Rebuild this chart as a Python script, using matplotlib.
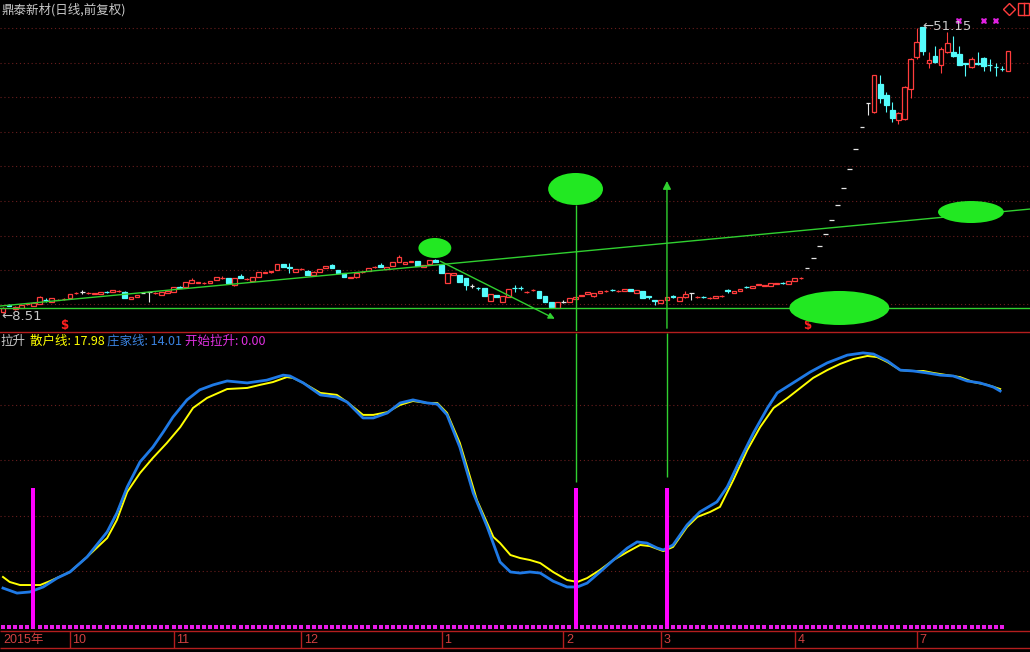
import matplotlib.pyplot as plt
from matplotlib.patches import Ellipse, Rectangle
from matplotlib.lines import Line2D
plt.switch_backend('agg')
plt.rcParams['font.family'] = ['Noto Sans CJK SC', 'DejaVu Sans']

W, H = 1030, 652

####data####
# daily candles, one per trading day (Sep 2015 .. Jul 2016)
opens = [8.6, 9.7, 9.1, 9.3, 9.8, 9.55, 9.85, 10.5, 10.15, 10.4,
         10.55, 10.75, 11.45, 11.6, 11.45, 11.35, 11.35, 11.7, 11.65, 11.75,
         11.65, 10.6, 10.9, 11.5, 11.65, 11.45, 11.2, 11.5, 11.65, 12.45,
         12.4, 13.0, 13.05, 12.95, 13.0, 13.45, 13.7, 13.75, 12.7, 14.0,
         13.55, 13.3, 13.9, 14.45, 14.55, 14.9, 15.8, 15.3, 14.65, 15.0,
         14.8, 14.2, 14.6, 15.2, 15.65, 14.9, 14.45, 13.8, 13.85, 14.55,
         14.75, 15.3, 15.65, 15.05, 15.5, 16.1, 15.8, 16.1, 16.25, 15.35,
         15.8, 16.4, 15.65, 13.0, 14.15, 14.15, 13.75, 12.55, 12.3, 12.25,
         10.3, 11.2, 10.15, 10.9, 12.3, 12.3, 11.6, 11.9, 11.8, 11.05,
         10.15, 9.25, 10.15, 10.15, 10.6, 11.05, 11.35, 11.05, 11.5, 11.75,
         12.0, 11.75, 11.8, 12.1, 11.5, 11.8, 11.05, 10.45, 10.0, 10.45,
         11.0, 10.3, 10.9, 11.5, 10.85, 10.95, 10.7, 10.75, 11.0, 11.9,
         11.5, 11.8, 12.45, 12.25, 12.7, 12.55, 12.55, 12.85, 13.05, 12.85,
         13.3, 13.7, 15.2, 16.7, 18.5, 20.3, 22.4, 24.6, 27.1, 30.0,
         32.9, 36.2, 39.8, 38.45, 42.6, 41.0, 38.75, 37.25, 37.4, 41.9,
         46.65, 51.1, 45.75, 46.8, 45.45, 47.4, 47.4, 47.1, 45.7, 45.15,
         45.8, 46.5, 45.5, 45.2, 44.9, 44.55]
closes = [9.3, 9.6, 9.4, 9.7, 9.85, 10.0, 10.9, 10.4, 10.75, 10.5,
          10.65, 11.35, 11.55, 11.6, 11.55, 11.5, 11.65, 11.6, 11.95, 11.85,
          10.75, 10.9, 11.2, 11.5, 11.65, 11.55, 11.65, 11.8, 12.4, 12.3,
          13.1, 13.45, 13.15, 13.05, 13.3, 13.9, 13.8, 13.0, 13.75, 13.75,
          13.65, 13.9, 14.6, 14.55, 14.7, 15.8, 15.4, 15.15, 15.05, 15.1,
          14.2, 14.65, 15.05, 15.5, 15.2, 14.45, 13.9, 13.9, 14.45, 14.65,
          15.2, 15.4, 15.35, 15.35, 16.1, 16.85, 16.1, 16.25, 15.5, 15.65,
          16.4, 16.1, 14.45, 14.45, 14.45, 13.15, 12.7, 12.55, 12.2, 11.05,
          11.35, 10.9, 11.05, 12.1, 12.2, 12.2, 11.7, 12.0, 10.75, 10.15,
          9.4, 10.15, 10.15, 10.75, 10.9, 11.2, 11.65, 11.5, 11.8, 11.85,
          11.9, 11.85, 12.1, 11.8, 11.95, 10.75, 10.9, 10.3, 10.45, 10.9,
          10.9, 10.9, 11.35, 11.5, 10.95, 10.85, 10.8, 11.05, 11.1, 11.8,
          11.8, 12.1, 12.35, 12.55, 12.85, 12.7, 13.0, 13.0, 12.95, 13.3,
          13.75, 13.8, 15.2, 16.7, 18.5, 20.3, 22.4, 24.6, 27.1, 30.0,
          32.9, 36.2, 39.8, 43.95, 40.55, 39.5, 37.55, 38.3, 42.2, 46.35,
          48.9, 47.55, 46.2, 45.9, 47.85, 48.75, 46.8, 45.45, 45.6, 46.35,
          45.6, 45.3, 45.4, 45.1, 44.8, 47.55]
highs = [9.4, 9.9, 9.5, 9.8, 9.9, 10.1, 11.0, 10.7, 10.8, 10.6,
         10.7, 11.4, 11.6, 11.95, 11.6, 11.55, 11.7, 11.8, 12.0, 11.9,
         11.75, 10.95, 11.25, 11.55, 11.7, 11.6, 11.7, 11.85, 12.45, 12.6,
         13.15, 13.8, 13.2, 13.1, 13.35, 13.95, 14.0, 13.8, 13.8, 14.3,
         13.7, 13.95, 14.65, 14.6, 14.75, 15.85, 15.85, 15.95, 15.1, 15.15,
         14.85, 14.7, 15.1, 15.55, 15.8, 14.95, 14.5, 13.95, 14.5, 14.7,
         15.25, 15.45, 16.0, 15.4, 16.15, 17.1, 16.15, 16.3, 16.3, 15.7,
         16.45, 16.5, 15.7, 14.5, 14.5, 14.2, 13.8, 12.9, 12.45, 12.3,
         11.4, 11.25, 11.1, 12.15, 12.7, 12.6, 11.75, 12.05, 11.85, 11.1,
         10.2, 10.2, 10.4, 10.8, 10.95, 11.25, 11.7, 11.55, 11.85, 11.9,
         12.05, 11.9, 12.15, 12.15, 12.0, 11.85, 11.1, 10.5, 10.5, 10.95,
         11.2, 10.95, 11.8, 11.55, 11.0, 11.0, 10.85, 11.1, 11.15, 12.1,
         11.85, 12.15, 12.5, 12.6, 12.9, 12.75, 13.05, 13.05, 13.1, 13.35,
         13.8, 13.85, 15.2, 16.7, 18.5, 20.3, 22.4, 24.6, 27.1, 30.0,
         32.9, 36.2, 39.8, 44.0, 44.0, 41.4, 39.95, 38.45, 42.3, 46.45,
         51.0, 51.15, 47.4, 48.3, 48.2, 50.4, 49.8, 48.3, 45.8, 46.65,
         47.4, 46.65, 46.35, 45.8, 45.3, 47.6]
lows = [8.51, 9.5, 9.0, 9.2, 9.7, 9.5, 9.8, 10.2, 10.1, 10.4,
        10.5, 10.7, 11.4, 11.35, 11.4, 11.3, 11.3, 11.5, 11.6, 11.7,
        10.7, 10.55, 10.85, 11.45, 10.15, 11.4, 11.15, 11.45, 11.6, 12.25,
        12.35, 12.95, 13.0, 12.9, 12.95, 13.4, 13.65, 12.95, 12.6, 13.7,
        13.5, 13.25, 13.85, 14.4, 14.5, 14.85, 15.35, 14.5, 14.6, 14.95,
        14.15, 14.15, 14.55, 15.15, 15.15, 14.4, 13.85, 13.75, 13.8, 14.5,
        14.7, 15.25, 15.3, 15.0, 15.45, 16.05, 15.75, 16.05, 15.45, 15.3,
        15.75, 16.05, 14.4, 12.95, 14.1, 13.1, 11.95, 12.2, 11.95, 11.0,
        10.25, 10.85, 10.1, 10.85, 11.65, 11.9, 11.55, 11.85, 10.7, 10.1,
        9.35, 9.2, 10.0, 10.1, 10.55, 11.0, 11.3, 10.9, 11.45, 11.7,
        11.85, 11.7, 11.75, 11.75, 11.45, 10.7, 10.6, 9.7, 9.95, 10.4,
        10.75, 10.25, 10.75, 10.45, 10.8, 10.8, 10.65, 10.7, 10.95, 11.5,
        11.45, 11.75, 12.3, 12.2, 12.65, 12.5, 12.5, 12.8, 12.9, 12.8,
        13.25, 13.65, 15.2, 16.7, 18.5, 20.3, 22.4, 24.6, 27.1, 30.0,
        32.9, 36.2, 38.0, 38.3, 39.8, 38.45, 36.95, 36.65, 37.3, 40.55,
        46.35, 47.0, 45.0, 45.7, 44.25, 47.2, 46.6, 45.4, 43.8, 45.0,
        45.5, 44.55, 44.55, 43.8, 44.55, 44.5]

# indicator lines (bar position, value)
sanhu_x = [0, 1.1, 2.8, 4.9, 6.1, 7.7, 11.0, 13.8, 17.1, 18.7,
           20.4, 22.5, 24.6, 26.9, 29.1, 31.2, 33.5, 36.8, 40.1, 42.2,
           44.3, 46.6, 47.6, 49.3, 52.1, 54.8, 56.5, 59.1, 60.8, 63.1,
           65.2, 67.3, 69.6, 71.3, 72.9, 75.0, 77.8, 80.5, 81.6, 83.3,
           84.9, 86.5, 88.2, 90.3, 92.6, 94.3, 95.9, 98.0, 100.2, 102.5,
           104.6, 106.2, 108.4, 110.0, 112.3, 114.0, 116.1, 117.7, 119.9, 122.2,
           124.3, 126.5, 128.8, 130.9, 133.0, 135.3, 137.4, 139.6, 141.9, 143.5,
           145.2, 147.3, 149.4, 151.1, 152.7, 155.0, 157.1, 159.3, 161.6, 163.7]
sanhu_v = [18.0, 16.2, 15.1, 15.1, 15.1, 16.5, 19.8, 25.2, 32.0, 38.5,
           48.6, 55.4, 60.8, 66.2, 71.9, 78.8, 82.4, 85.6, 86.0, 87.1,
           88.1, 89.9, 89.6, 87.8, 84.2, 83.5, 80.9, 76.3, 76.3, 77.3,
           79.9, 81.3, 80.6, 80.6, 77.0, 66.2, 45.7, 32.4, 30.2, 25.9,
           24.8, 24.1, 23.0, 19.8, 16.9, 16.2, 17.6, 20.5, 24.1, 27.0,
           29.5, 29.1, 27.3, 28.8, 36.0, 39.6, 41.4, 43.2, 52.9, 63.7,
           71.9, 78.8, 82.4, 86.0, 89.6, 92.4, 94.6, 96.4, 97.5, 97.1,
           95.3, 92.4, 92.1, 92.1, 91.4, 90.6, 89.9, 88.1, 87.1, 85.6]
zhuang_x = [0, 2.3, 4.4, 6.6, 8.9, 11.0, 13.8, 17.1, 18.7, 20.4,
            22.5, 24.6, 26.3, 27.9, 30.2, 32.3, 34.5, 36.8, 40.1, 43.3,
            46.0, 47.1, 49.3, 52.1, 54.8, 56.5, 59.1, 60.8, 63.1, 65.2,
            67.3, 69.6, 71.3, 72.9, 75.0, 77.2, 79.5, 81.6, 83.3, 84.9,
            86.5, 88.2, 90.3, 92.6, 94.3, 95.9, 98.0, 100.2, 102.5, 104.1,
            105.7, 107.4, 108.4, 110.0, 112.3, 114.4, 117.2, 118.9, 121.0, 123.2,
            125.5, 127.1, 129.7, 132.5, 135.3, 138.6, 141.2, 142.9, 145.2, 147.3,
            149.4, 151.7, 153.9, 156.0, 158.3, 160.4, 162.6, 163.7]
zhuang_v = [14.0, 12.2, 12.6, 14.4, 17.6, 19.8, 25.2, 34.2, 41.0, 50.4,
            59.4, 64.7, 70.1, 75.5, 81.7, 85.3, 87.1, 88.5, 87.8, 88.8,
            90.6, 90.3, 87.8, 83.5, 82.7, 80.9, 75.2, 75.2, 77.0, 80.6,
            81.7, 80.6, 80.2, 76.3, 64.7, 48.2, 36.0, 23.4, 19.8, 19.4,
            19.8, 19.4, 16.5, 14.4, 14.4, 15.8, 19.8, 24.1, 28.4, 30.6,
            30.2, 28.4, 27.7, 29.5, 36.7, 41.4, 45.0, 50.4, 60.1, 69.8,
            78.8, 84.2, 87.8, 91.7, 95.0, 97.8, 98.6, 98.2, 95.7, 92.4,
            92.1, 91.4, 90.6, 90.3, 88.5, 87.8, 86.3, 84.9]

signal_idx = [5, 94, 109]       # 开始拉升 bars
signal_val = 50
dollar_idx = [10, 132]
cross_idx = [157, 161, 163]
month_idx = [11, 28, 49, 72, 92, 108, 130, 150]
month_lab = ['10', '11', '12', '1', '2', '3', '4', '7']
price_grid = [9.85, 14.9, 20.05, 25.2, 30.35, 35.5, 40.65, 45.8, 50.95]
ind_grid = [20, 40, 60, 80]

# hand drawn marks (bar position, price)
support_p = 9.26
trend_x, trend_p = [-0.5, 168.6], [9.55, 24.0]
fall_x, fall_p = [71.4, 91.0], [16.41, 7.47]
blobs = [(70.9, 18.2, 5.4, 2.98), (94.0, 26.99, 9.0, 4.77),
         (158.9, 23.56, 10.8, 3.28), (137.3, 9.26, 16.4, 5.07)]

RED = '#ff3c3c'
CYAN = '#54fcfc'
WHITE = '#e6e6e6'
GREEN = '#30d030'
BLOB = '#22e822'
GRID = '#6a1e1e'
BORDER = '#b41e1e'
NUMFONT = ['Liberation Sans', 'DejaVu Sans']

fig = plt.figure(figsize=(W / 100, H / 100), dpi=100, facecolor='black')


def rows(top, bottom):
    return [0, 1 - bottom / H, 1, (bottom - top) / H]


xlim = (-0.49, 168.6)
ax1 = fig.add_axes(rows(0, 331))
ax2 = fig.add_axes(rows(333, 630))
ax3 = fig.add_axes(rows(629, 650))
for ax in (ax1, ax2, ax3):
    ax.set_xlim(*xlim)
    ax.axis('off')
ax1.set_ylim(5.83, 55.15)
ax2.set_ylim(-1.08, 105.76)
ax3.set_ylim(21, 0)

####price panel####
ax1.hlines(price_grid, *xlim, color=GRID, lw=0.8, linestyles=(0, (1, 2.5)), zorder=0)
for i in range(len(opens)):
    o, c, h, l = opens[i], closes[i], highs[i], lows[i]
    col = RED if c > o else (CYAN if c < o else WHITE)
    lo, hi = min(o, c), max(o, c)
    ax1.vlines(i, hi, h, color=col, lw=0.8)
    ax1.vlines(i, l, lo, color=col, lw=0.8)
    if c > o:
        ax1.bar(i, hi - lo, bottom=lo, width=0.78, facecolor='black', edgecolor=col, lw=0.9)
    elif c < o:
        ax1.bar(i, hi - lo, bottom=lo, width=0.78, facecolor=col, edgecolor=col, lw=0.9)
    else:
        ax1.hlines(o, i - 0.39, i + 0.39, color=col, lw=0.9)

ax1.axhline(support_p, color=GREEN, lw=1)
ax1.plot(trend_x, trend_p, color=GREEN, lw=1)
ax1.annotate('', xy=(fall_x[1], fall_p[1]), xytext=(fall_x[0], fall_p[0]),
             arrowprops=dict(arrowstyle='-|>', color=GREEN, lw=1, mutation_scale=9))
for cx, cy, ew, eh in blobs:
    ax1.add_patch(Ellipse((cx, cy), ew, eh, facecolor=BLOB, edgecolor='none', zorder=5))
# signal verticals crossing both panels
ax1.vlines(signal_idx[1], 5.83, blobs[1][1] - blobs[1][3] / 2, color=GREEN, lw=1)
ax1.annotate('', xy=(signal_idx[2], 28.6), xytext=(signal_idx[2], 5.83),
             arrowprops=dict(arrowstyle='-|>', color=GREEN, lw=1, mutation_scale=12))
ax2.vlines(signal_idx[1], 52.2, 105.76, color=GREEN, lw=1)
ax2.vlines(signal_idx[2], 54.0, 105.76, color=GREEN, lw=1)

for i in dollar_idx:
    ax1.text(i, 6.72, '$', color='#ff2020', fontsize=8.5, fontweight='bold',
             ha='center', va='center', family='DejaVu Sans', parse_math=False)
ax1.plot(cross_idx, [52.0] * len(cross_idx), 'X', color='#e020e0', ms=4.5, mew=0)
ax1.text(150.9, highs[151], '\u219051.15', color='#c8c8c8', fontsize=9.5,
         ha='left', va='center', family='DejaVu Sans')
ax1.text(xlim[0] + 0.3, lows[0] - 0.45, '\u21908.51', color='#c8c8c8', fontsize=9.5,
         ha='left', va='center', family='DejaVu Sans')

####indicator panel####
ax2.hlines(ind_grid, *xlim, color=GRID, lw=0.8, linestyles=(0, (1, 2.5)), zorder=0)
ax2.plot(sanhu_x, sanhu_v, color='#ffff00', lw=1.4)
ax2.plot(zhuang_x, zhuang_v, color='#1f7ae6', lw=2.0)
ax2.bar(signal_idx, [signal_val] * len(signal_idx), width=0.65, color='#ff00ff', zorder=4)
ax2.plot(range(len(opens) - 1), [0] * (len(opens) - 1), 's', color='#e81ce8',
         ms=2.3, mew=0, ls='none')

####date strip####
ax3.hlines([2, 19], *xlim, color=BORDER, lw=1)
ax3.vlines(month_idx, 2, 19, color=BORDER, lw=1)
ax3.text(xlim[0] + 0.5, 11, '2015年', color='#d24040', fontsize=9, va='center',
         family=['Liberation Sans', 'Noto Sans CJK SC'])
for i, lab in zip(month_idx, month_lab):
    ax3.text(i + 0.4, 11, lab, color='#d24040', fontsize=9, va='center', family=NUMFONT)

####frame and texts####
fig.add_artist(Line2D([0, 1], [1 - 331.5 / H] * 2, color=BORDER, lw=1))
fig.text(1 / W, 1 - 10 / H, '鼎泰新材(日线,前复权)', color='#c8c8c8', fontsize=9, va='center')
legend = [(0, '拉升', '#c8c8c8'), (30, '散户线: 17.98', '#ffff00'),
          (107, '庄家线: 14.01', '#3a82e0'), (185, '开始拉升: 0.00', '#e030e0')]
for px, s, col in legend:
    fig.text(px / W, 1 - 341 / H, s, color=col, fontsize=9, va='center')
fig.add_artist(Line2D([1009 / W], [1 - 9 / H], marker='D', ms=6.5, mfc='none', mec=RED, mew=1))
fig.add_artist(Rectangle((1018 / W, 1 - 15 / H), 11 / W, 12 / H, transform=fig.transFigure,
                         facecolor='none', edgecolor=RED, lw=1))
fig.add_artist(Line2D([1023.5 / W] * 2, [1 - 15 / H, 1 - 3 / H], color=RED, lw=1))

plt.savefig('out.png', dpi=100, facecolor='black')
